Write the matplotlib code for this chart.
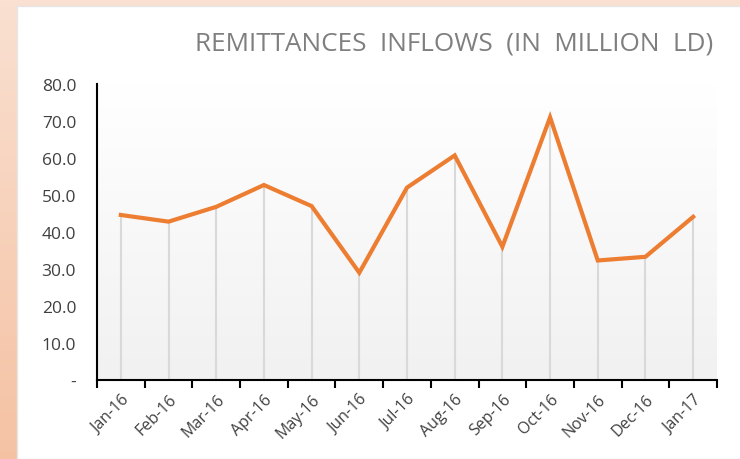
import numpy as np
import matplotlib
matplotlib.use("Agg")
from matplotlib import pyplot as plt
from matplotlib.patches import Rectangle

# data
months = ["Jan-16", "Feb-16", "Mar-16", "Apr-16", "May-16", "Jun-16", "Jul-16",
          "Aug-16", "Sep-16", "Oct-16", "Nov-16", "Dec-16", "Jan-17"]
inflows = [44.6, 42.8, 46.8, 52.7, 47.0, 29.0, 52.0, 60.7, 36.0, 71.0, 32.3, 33.3, 44.1]
y_ticks = [0, 10, 20, 30, 40, 50, 60, 70, 80]
y_labels = ["-", "10.0", "20.0", "30.0", "40.0", "50.0", "60.0", "70.0", "80.0"]
title = "REMITTANCES  INFLOWS  (IN  MILLION  LD)"

plt.rcParams["font.family"] = ["Open Sans", "DejaVu Sans"]

fig = plt.figure(figsize=(7.4, 4.6), dpi=100)

# peach frame gradient behind everything
bg = fig.add_axes([0, 0, 1, 1], zorder=-2)
grad = np.linspace(0, 1, 256).reshape(-1, 1)
top_col = np.array([0.98, 0.88, 0.82])
bot_col = np.array([0.96, 0.76, 0.64])
img = top_col * (1 - grad[..., None]) + bot_col * grad[..., None]
bg.imshow(img, aspect="auto", extent=[0, 1, 0, 1], origin="upper")
bg.add_patch(Rectangle((17 / 740, 0), 1, 1 - 7 / 460, facecolor="white",
                       edgecolor="#e6e6e6", lw=1))
bg.set_xlim(0, 1)
bg.set_ylim(0, 1)
bg.axis("off")

ax = fig.add_axes([97 / 740, 79 / 460, 620 / 740, 296 / 460])
ax.set_facecolor("none")
x = np.arange(len(months))

# plot area gradient
pg = np.linspace(1.0, 0.945, 256).reshape(-1, 1)
ax.imshow(np.repeat(pg[..., None], 3, axis=2), aspect="auto",
          extent=[-0.5, len(months) - 0.5, 0, 80], origin="upper", zorder=0)

ax.vlines(x, 0, inflows, color="#d9d9d9", lw=1.5, zorder=1)
ax.plot(x, inflows, color="#ed7d31", lw=3, solid_joinstyle="miter", zorder=3)

ax.set_xlim(-0.5, len(months) - 0.5)
ax.set_ylim(0, 80)
ax.set_yticks(y_ticks)
ax.set_yticklabels(y_labels, fontsize=12.5, color="#404040")
ax.tick_params(axis="y", length=0, pad=15)

ax.set_xticks(np.arange(len(months) + 1) - 0.5)
ax.set_xticklabels([])
ax.tick_params(axis="x", length=6, width=1.5, color="black", direction="out")
ax.set_xticks(x, minor=True)
ax.set_xticklabels(months, minor=True, rotation=45, ha="right", va="top",
                   rotation_mode="anchor", fontsize=11.5, color="#404040")
ax.tick_params(axis="x", which="minor", length=0, pad=8)

for side in ["top", "right"]:
    ax.spines[side].set_visible(False)
ax.spines["left"].set_linewidth(1.5)
ax.spines["bottom"].set_linewidth(1.5)

fig.text(713 / 740, 1 - 44 / 460, title, ha="right", va="center",
         fontsize=18.8, color="#7f7f7f")

fig.savefig("out.png", dpi=100)
